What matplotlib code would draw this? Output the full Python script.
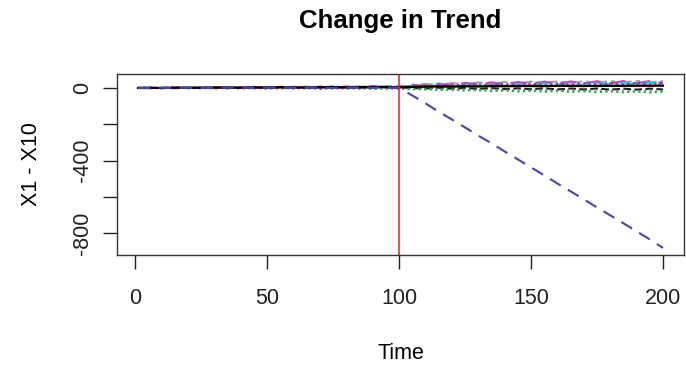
import matplotlib
matplotlib.use("Agg")
import matplotlib.pyplot as plt

plt.rcParams['font.family'] = ['Liberation Sans', 'DejaVu Sans']

# Time points (sampled every 5 steps)
time = [1, 5, 10, 15, 20, 25, 30, 35, 40, 45, 50, 55, 60, 65, 70, 75, 80, 85, 90, 95, 100,
        105, 110, 115, 120, 125, 130, 135, 140, 145, 150, 155, 160, 165, 170, 175, 180, 185, 190, 195, 200]

x1 = [0, 1, -1, 2, 0, 1, 3, 2, 1, 3, 2, 4, 3, 2, 4, 5, 3, 4, 6, 5, 4,
      6, 7, 8, 7, 9, 8, 10, 9, 11, 10, 10, 12, 11, 10, 12, 11, 12, 13, 12, 13]
x2 = [0, -1, 1, 0, 2, 1, 0, 2, 3, 1, 2, 3, 2, 4, 3, 2, 4, 3, 5, 4, 3,
      6, 9, 11, 10, 12, 11, 13, 12, 11, 13, 12, 11, 13, 12, 11, 13, 12, 11, 13, 12]
x3 = [0, 2, -1, 3, -2, 4, -3, 3, -4, 2, -5, 3, -4, 1, -6, 2, -5, 0, -7, 1, -4,
      -8, -4, -12, -7, -15, -9, -18, -11, -20, -13, -22, -14, -23, -16, -24, -17, -25, -18, -26, -19]
x4 = [0, 0, 1, 0, 1, 0, 1, 2, 1, 0, 1, 2, 1, 2, 1, 0, 1, 2, 1, 2, 1,
      -42, -85, -131, -174, -218, -263, -305, -350, -394, -438, -482, -527, -570, -614, -659,
      -702, -746, -791, -835, -882]
x5 = [0, 2, -1, 3, 0, 4, -1, 5, 0, 6, -1, 6, 1, 7, 0, 8, 1, 8, 0, 9, 2,
      12, 5, 16, 8, 20, 10, 23, 12, 25, 14, 27, 15, 28, 16, 29, 17, 30, 18, 31, 19]
x6 = [0, -1, 2, -2, 3, -1, 4, -2, 5, -1, 6, -2, 7, -1, 8, -1, 9, 0, 10, 1, 8,
      18, 10, 24, 14, 28, 18, 31, 20, 33, 22, 35, 23, 36, 24, 37, 25, 38, 26, 38, 27]
x7 = [0, 1, 0, 3, 1, 4, 1, 5, 2, 6, 2, 7, 3, 8, 3, 9, 4, 10, 4, 11, 6,
      14, 22, 16, 27, 20, 31, 23, 33, 25, 35, 27, 36, 28, 37, 29, 38, 30, 39, 31, 38]
x8 = [0, -1, 1, -2, 1, -3, 1, -3, 2, -4, 1, -5, 2, -5, 1, -6, 2, -6, 1, -7, -2,
      -5, -10, -6, -13, -8, -15, -9, -17, -10, -18, -11, -19, -12, -20, -13, -21, -14, -21, -15, -20]
x9 = [0, 1, 0, 1, 2, 1, 0, 2, 1, 2, 3, 1, 2, 3, 2, 1, 3, 2, 3, 4, 2,
      0, -3, 1, -4, 0, -5, -1, -6, -2, -7, -2, -8, -3, -8, -3, -9, -4, -9, -4, -8]
x10 = [0, 1, -1, 2, -1, 3, -2, 4, -1, 5, -2, 5, -1, 6, -2, 7, -1, 7, 0, 8, 3,
       8, 14, 10, 18, 12, 20, 14, 22, 15, 24, 16, 25, 17, 26, 18, 27, 19, 28, 20, 27]

series = [x1, x2, x3, x4, x5, x6, x7, x8, x9, x10]
colors = ['black', '#d02030', '#20b040', '#4646a8', '#30c0c8', '#c040c0',
          '#a0a0a0', '#909090', '#202020', '#5050c0']
styles = ['-', '-', ':', (0, (6, 4)), '-.', (0, (8, 4)), (0, (2, 2, 6, 2)), ':', '--', ':']

fig = plt.figure(figsize=(6.86, 3.65), dpi=100)
ax = fig.add_axes([117 / 686, 110 / 365, 567 / 686, 181 / 365])

# draw the flat ones first, the trend series over them
order = [8, 7, 6, 5, 4, 2, 9, 1, 0, 3]
for i in order:
    ax.plot(time, series[i], color=colors[i], linestyle=styles[i], lw=1.5)

ax.axvline(100, color='#e02020', lw=1.1)

ax.set_xlim(-6.96, 207.96)
ax.set_ylim(-921, 77)

ax.set_xticks([0, 50, 100, 150, 200])
ax.set_yticks([0, -200, -400, -600, -800])
ax.set_yticklabels(['0', '', '-400', '', '-800'], rotation=90, va='center')

ax.tick_params(axis='both', length=10, width=1, labelsize=15.5, colors='#222222')
ax.tick_params(axis='x', pad=14)
ax.tick_params(axis='y', pad=7)
for sp in ax.spines.values():
    sp.set_linewidth(1)
    sp.set_color('#333333')

ax.set_xlabel('Time', fontsize=15.5, labelpad=24)
ax.set_ylabel('X1 - X10', fontsize=15.5, labelpad=22)
fig.text(400 / 686, 1 - 21 / 365, 'Change in Trend', ha='center', va='center',
         fontsize=18.6, fontweight='bold')

fig.savefig('out.png', dpi=100)
